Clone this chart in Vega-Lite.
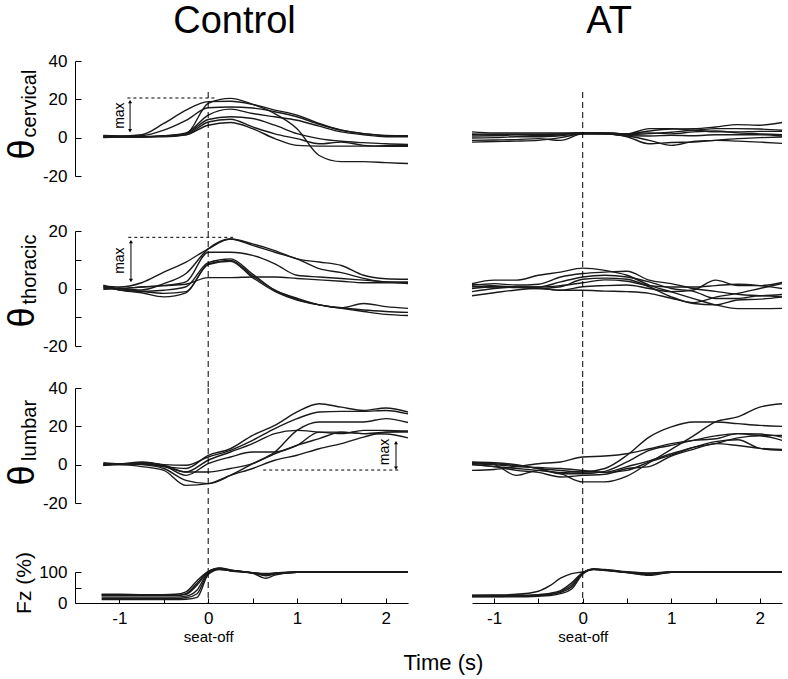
{
"$schema": "https://vega.github.io/schema/vega-lite/v6.json",
"background": "white",
"padding": {"left": 4, "top": 3, "right": 5, "bottom": 5},
"config": {
  "view": {"stroke": null},
  "font": "Liberation Sans",
  "axis": {"grid": false, "domainColor": "black", "tickColor": "black", "labelColor": "black", "titleColor": "black", "labelFont": "Liberation Sans", "titleFont": "Liberation Sans", "labelFontSize": 17, "titleFontWeight": "normal", "tickSize": -6, "labelPadding": 14, "domainWidth": 1, "tickWidth": 1},
  "title": {"font": "Liberation Sans", "fontWeight": "normal", "color": "black"}
},
"title": {"text": "Time (s)", "orient": "bottom", "fontSize": 22, "anchor": "middle", "dx": 49, "offset": 9},
"datasets": {
"d": [
{"p":"cC","t":-1.18,"a":0.3,"b":1,"c":0.8,"d":0.2,"e":0.6,"f":1.2,"g":0},
{"p":"cC","t":-1,"a":0.5,"b":0.8,"c":0.6,"d":0.4,"e":0.5,"f":0.9,"g":0.3},
{"p":"cC","t":-0.75,"a":0.5,"b":1.5,"c":1,"d":0.5,"e":0.5,"f":0.5,"g":0.5},
{"p":"cC","t":-0.5,"a":0.8,"b":7.4,"c":3.9,"d":1,"e":0.8,"f":0.8,"g":0.5},
{"p":"cC","t":-0.25,"a":2,"b":14.4,"c":9,"d":2.5,"e":2,"f":1.5,"g":1.5},
{"p":"cC","t":0,"a":17.9,"b":18.8,"c":15.6,"d":11.8,"e":9.5,"f":8.2,"g":6.5},
{"p":"cC","t":0.25,"a":20.5,"b":19,"c":16,"d":14.9,"e":10.9,"f":9.6,"g":7.9},
{"p":"cC","t":0.5,"a":17.4,"b":17.4,"c":15.5,"d":12.6,"e":10,"f":5.6,"g":4.7},
{"p":"cC","t":0.75,"a":12.6,"b":14.4,"c":13.5,"d":10.9,"e":6.5,"f":2,"g":-0.5},
{"p":"cC","t":1,"a":4.7,"b":11.8,"c":10.9,"d":9.1,"e":2.1,"f":-0.5,"g":-4},
{"p":"cC","t":1.25,"a":-9.3,"b":7.4,"c":7,"d":6,"e":-0.5,"f":-3.2,"g":-4.4},
{"p":"cC","t":1.5,"a":-12.5,"b":3.9,"c":3.9,"d":3,"e":-1.9,"f":-2.3,"g":-4.4},
{"p":"cC","t":1.75,"a":-12.5,"b":2.1,"c":2.1,"d":1.5,"e":-2.6,"f":-4,"g":-4.4},
{"p":"cC","t":2,"a":-13,"b":1.2,"c":1,"d":0.5,"e":-3.2,"f":-4.5,"g":-4.2},
{"p":"cC","t":2.25,"a":-13.5,"b":1,"c":0.8,"d":0.5,"e":-3.5,"f":-4.5,"g":-4},
{"p":"tC","t":-1.18,"a":1,"b":0.5,"c":0,"d":1.2,"e":-0.3,"f":0.6,"g":0.2},
{"p":"tC","t":-1,"a":0.5,"b":0,"c":0,"d":-0.5,"e":0,"f":-0.5,"g":0},
{"p":"tC","t":-0.75,"a":2,"b":-0.5,"c":0.5,"d":-1,"e":-1,"f":-1.5,"g":0.5},
{"p":"tC","t":-0.5,"a":5.7,"b":1.7,"c":1,"d":-0.6,"e":-1.7,"f":-2.9,"g":1},
{"p":"tC","t":-0.25,"a":9.2,"b":5.2,"c":2.3,"d":0.6,"e":-1.1,"f":-1.5,"g":1.5},
{"p":"tC","t":0,"a":13.8,"b":13.8,"c":12.6,"d":9,"e":8.5,"f":8.3,"g":3.8},
{"p":"tC","t":0.25,"a":17.2,"b":17.2,"c":12.6,"d":10.3,"e":9.8,"f":9.5,"g":3.8},
{"p":"tC","t":0.5,"a":15.5,"b":15,"c":11.5,"d":5,"e":4.4,"f":3.8,"g":4},
{"p":"tC","t":0.75,"a":13.2,"b":12.6,"c":8.6,"d":-0.6,"e":-0.6,"f":-1,"g":4},
{"p":"tC","t":1,"a":10.3,"b":10.3,"c":4.6,"d":-3.4,"e":-3.8,"f":-4,"g":3.5},
{"p":"tC","t":1.25,"a":9.2,"b":6.9,"c":4,"d":-5.7,"e":-5.7,"f":-5.7,"g":3},
{"p":"tC","t":1.5,"a":8,"b":5.5,"c":3.5,"d":-6.7,"e":-6.7,"f":-6.9,"g":2.5},
{"p":"tC","t":1.75,"a":4.6,"b":3.5,"c":2.9,"d":-5.2,"e":-7.5,"f":-8,"g":2},
{"p":"tC","t":2,"a":3.4,"b":2.3,"c":2.3,"d":-6.3,"e":-8,"f":-9,"g":2},
{"p":"tC","t":2.25,"a":3.2,"b":2.3,"c":1.7,"d":-6.9,"e":-8.3,"f":-9.4,"g":2},
{"p":"lC","t":-1.18,"a":0,"b":0.5,"c":-0.5,"d":0,"e":1,"f":-0.3,"g":0.5},
{"p":"lC","t":-1,"a":0.5,"b":0.5,"c":0.5,"d":0,"e":0.5,"f":0,"g":0.5},
{"p":"lC","t":-0.75,"a":0.5,"b":1,"c":0,"d":1,"e":1.4,"f":-1,"g":0.5},
{"p":"lC","t":-0.5,"a":-1,"b":0,"c":-2,"d":-0.3,"e":-0.5,"f":-3,"g":-1},
{"p":"lC","t":-0.25,"a":-2,"b":-0.3,"c":-8.2,"d":-3.8,"e":-5.6,"f":-10.8,"g":-3.8},
{"p":"lC","t":0,"a":4.9,"b":4,"c":-9.9,"d":2.3,"e":0.5,"f":-9.9,"g":-3.8},
{"p":"lC","t":0.25,"a":8.3,"b":7.5,"c":-5.6,"d":6.6,"e":4,"f":-5.6,"g":-2},
{"p":"lC","t":0.5,"a":15.3,"b":12.7,"c":0.5,"d":11,"e":6.6,"f":-2,"g":0.5},
{"p":"lC","t":0.75,"a":20.5,"b":18.8,"c":6.6,"d":16.2,"e":6.6,"f":2.3,"g":5.7},
{"p":"lC","t":1,"a":27.5,"b":24,"c":17.9,"d":17.9,"e":10.1,"f":4.9,"g":10.1},
{"p":"lC","t":1.25,"a":31.8,"b":27.5,"c":22.3,"d":17,"e":17,"f":8.3,"g":13.6},
{"p":"lC","t":1.5,"a":30,"b":27.8,"c":22.3,"d":16.2,"e":17,"f":11,"g":17},
{"p":"lC","t":1.75,"a":28.3,"b":27.8,"c":22.3,"d":17.9,"e":16.2,"f":14.4,"g":16.2},
{"p":"lC","t":2,"a":29.6,"b":28.3,"c":24,"d":17.9,"e":17,"f":17,"g":16},
{"p":"lC","t":2.25,"a":27.5,"b":26.5,"c":22,"d":17.5,"e":17,"f":17.5,"g":14},
{"p":"fC","t":-1.2,"a":28,"b":24,"c":19,"d":15,"e":11,"f":26},
{"p":"fC","t":-1,"a":28,"b":24,"c":19,"d":15,"e":11,"f":26},
{"p":"fC","t":-0.75,"a":27,"b":24,"c":19,"d":15,"e":11,"f":26},
{"p":"fC","t":-0.5,"a":27,"b":24,"c":19,"d":15,"e":11,"f":25},
{"p":"fC","t":-0.375,"a":28,"b":24,"c":19,"d":15,"e":11,"f":25},
{"p":"fC","t":-0.25,"a":36,"b":28,"c":22,"d":17,"e":12,"f":30},
{"p":"fC","t":-0.125,"a":72,"b":58,"c":42,"d":30,"e":18,"f":64},
{"p":"fC","t":0,"a":102,"b":100,"c":98,"d":95,"e":92,"f":101},
{"p":"fC","t":0.125,"a":113,"b":111,"c":110,"d":109,"e":108,"f":112},
{"p":"fC","t":0.25,"a":107,"b":106,"c":105,"d":104,"e":105,"f":104},
{"p":"fC","t":0.5,"a":97,"b":98,"c":96,"d":97,"e":98,"f":97},
{"p":"fC","t":0.65,"a":92,"b":95,"c":80,"d":88,"e":93,"f":91},
{"p":"fC","t":0.75,"a":95,"b":96,"c":90,"d":93,"e":97,"f":95},
{"p":"fC","t":1,"a":99,"b":99,"c":99,"d":100,"e":100,"f":99},
{"p":"fC","t":1.5,"a":100,"b":100,"c":100,"d":100,"e":100,"f":100},
{"p":"fC","t":2,"a":100,"b":100,"c":100,"d":100,"e":100,"f":100},
{"p":"fC","t":2.25,"a":100,"b":100,"c":100,"d":100,"e":100,"f":100},
{"p":"cA","t":-1.25,"a":3,"b":1.6,"c":0.9,"d":-0.2,"e":-1.4,"f":-2.3,"g":2},
{"p":"cA","t":-1,"a":2.5,"b":2,"c":1,"d":0,"e":-1.2,"f":-2,"g":1.6},
{"p":"cA","t":-0.75,"a":2.5,"b":2,"c":1.5,"d":0.5,"e":-1,"f":-1.8,"g":1.6},
{"p":"cA","t":-0.5,"a":2.5,"b":2,"c":1.5,"d":0.5,"e":-0.5,"f":-1.4,"g":1},
{"p":"cA","t":-0.25,"a":2.5,"b":2,"c":2,"d":1,"e":-1.4,"f":0,"g":1.5},
{"p":"cA","t":0,"a":2.5,"b":2.5,"c":2.5,"d":2,"e":2,"f":2,"g":2.5},
{"p":"cA","t":0.25,"a":2.5,"b":2.5,"c":2,"d":2,"e":2,"f":2,"g":2.5},
{"p":"cA","t":0.5,"a":2,"b":2,"c":1.5,"d":1,"e":1,"f":0.5,"g":2},
{"p":"cA","t":0.75,"a":3.5,"b":4.7,"c":2.1,"d":0.9,"e":-1.4,"f":-3.2,"g":2.5},
{"p":"cA","t":1,"a":4.5,"b":4.7,"c":2.8,"d":1.2,"e":-4,"f":-2.5,"g":2},
{"p":"cA","t":1.25,"a":4.7,"b":3.9,"c":3.9,"d":1,"e":-2,"f":-2.3,"g":3},
{"p":"cA","t":1.5,"a":5.6,"b":4.7,"c":3,"d":1.5,"e":-1.4,"f":-1.4,"g":3.5},
{"p":"cA","t":1.75,"a":6.8,"b":4.7,"c":3,"d":1.5,"e":-0.5,"f":-1.8,"g":2.5},
{"p":"cA","t":2,"a":6.5,"b":4.5,"c":3.3,"d":1.5,"e":0,"f":-2.3,"g":2},
{"p":"cA","t":2.25,"a":7.9,"b":3.9,"c":3.3,"d":0.9,"e":0.4,"f":-3,"g":1.5},
{"p":"tA","t":-1.25,"a":1.7,"b":1.1,"c":0,"d":-1.1,"e":-2.5,"f":0.6,"g":1.5},
{"p":"tA","t":-1,"a":2.9,"b":1.7,"c":0.5,"d":0,"e":-1.5,"f":0.6,"g":1},
{"p":"tA","t":-0.75,"a":2.9,"b":1.2,"c":0.5,"d":0.5,"e":-0.5,"f":0.3,"g":0.5},
{"p":"tA","t":-0.5,"a":4.6,"b":1.5,"c":0.5,"d":0,"e":0,"f":0.1,"g":0.5},
{"p":"tA","t":-0.25,"a":5.7,"b":4,"c":2.3,"d":0.6,"e":-0.6,"f":-0.6,"g":1},
{"p":"tA","t":0,"a":7.1,"b":5.2,"c":4,"d":3.2,"e":0.6,"f":-0.6,"g":2},
{"p":"tA","t":0.25,"a":6.3,"b":5.7,"c":4.6,"d":3.6,"e":1,"f":-0.9,"g":3},
{"p":"tA","t":0.5,"a":4.6,"b":6,"c":4,"d":3.2,"e":1.2,"f":-1.1,"g":2.5},
{"p":"tA","t":0.75,"a":1.2,"b":2.9,"c":2.3,"d":0.6,"e":0,"f":-1.7,"g":1},
{"p":"tA","t":1,"a":-1.2,"b":1.7,"c":0,"d":-2.9,"e":-1.1,"f":-3.4,"g":0.5},
{"p":"tA","t":1.25,"a":-3.5,"b":0,"c":-1,"d":-5.2,"e":-0.5,"f":-4.9,"g":0.5},
{"p":"tA","t":1.5,"a":-5.7,"b":-1,"c":-3.5,"d":-5.7,"e":2.9,"f":-3,"g":1},
{"p":"tA","t":1.75,"a":-7,"b":-2,"c":-3.5,"d":-4,"e":1,"f":-1.7,"g":1.5},
{"p":"tA","t":2,"a":-7,"b":-2.5,"c":-2.5,"d":-3.7,"e":1,"f":0,"g":1},
{"p":"tA","t":2.25,"a":-6.9,"b":-2.1,"c":-2.9,"d":-3,"e":2.1,"f":1.7,"g":0},
{"p":"lA","t":-1.25,"a":0,"b":1.4,"c":-3,"d":1,"e":0.5,"f":0,"g":1},
{"p":"lA","t":-1,"a":-1,"b":1,"c":-2.5,"d":0.5,"e":0,"f":-1,"g":0},
{"p":"lA","t":-0.75,"a":-2,"b":0,"c":-1,"d":-0.5,"e":-1,"f":-3,"g":-5.6},
{"p":"lA","t":-0.5,"a":-3,"b":-2,"c":0.5,"d":-2,"e":-1.5,"f":-4,"g":-3},
{"p":"lA","t":-0.25,"a":-4.7,"b":-3,"c":1.4,"d":-4.7,"e":-2,"f":-6.4,"g":-4},
{"p":"lA","t":0,"a":-9,"b":-3.8,"c":4,"d":-4.7,"e":-3,"f":-5.6,"g":-3.8},
{"p":"lA","t":0.25,"a":-9,"b":-2,"c":4.5,"d":-3.5,"e":-4,"f":-5,"g":-4},
{"p":"lA","t":0.5,"a":-6,"b":4.9,"c":5.7,"d":1.4,"e":-1,"f":-2,"g":-3},
{"p":"lA","t":0.75,"a":1,"b":14.4,"c":8.3,"d":7.5,"e":2,"f":-1,"g":1.4},
{"p":"lA","t":1,"a":8,"b":19.7,"c":11,"d":10.1,"e":5.7,"f":4.5,"g":5},
{"p":"lA","t":1.25,"a":15,"b":22.3,"c":12.7,"d":12.7,"e":9,"f":8,"g":9},
{"p":"lA","t":1.5,"a":22.3,"b":22.3,"c":13.5,"d":15,"e":11,"f":11,"g":12},
{"p":"lA","t":1.75,"a":24.9,"b":21.4,"c":16.2,"d":16.2,"e":14,"f":10,"g":13},
{"p":"lA","t":2,"a":30,"b":20.5,"c":16,"d":15.3,"e":15,"f":8.5,"g":8.5},
{"p":"lA","t":2.25,"a":31.8,"b":20,"c":14.4,"d":15.3,"e":12.7,"f":8,"g":7.5},
{"p":"fA","t":-1.25,"a":25,"b":23,"c":21,"d":20,"e":24},
{"p":"fA","t":-1,"a":26,"b":23,"c":21,"d":20,"e":24},
{"p":"fA","t":-0.75,"a":28,"b":24,"c":22,"d":20,"e":24},
{"p":"fA","t":-0.5,"a":38,"b":27,"c":24,"d":22,"e":26},
{"p":"fA","t":-0.375,"a":55,"b":31,"c":27,"d":24,"e":29},
{"p":"fA","t":-0.25,"a":80,"b":40,"c":34,"d":30,"e":37},
{"p":"fA","t":-0.125,"a":95,"b":65,"c":52,"d":45,"e":58},
{"p":"fA","t":0,"a":100,"b":98,"c":96,"d":93,"e":97},
{"p":"fA","t":0.125,"a":110,"b":109,"c":109,"d":108,"e":110},
{"p":"fA","t":0.25,"a":108,"b":106,"c":107,"d":105,"e":106},
{"p":"fA","t":0.5,"a":101,"b":99,"c":99,"d":98,"e":98},
{"p":"fA","t":0.65,"a":98,"b":95,"c":93,"d":92,"e":96},
{"p":"fA","t":0.75,"a":97,"b":94,"c":92,"d":89,"e":95},
{"p":"fA","t":1,"a":100,"b":99,"c":99,"d":99,"e":100},
{"p":"fA","t":1.5,"a":100,"b":100,"c":100,"d":100,"e":100},
{"p":"fA","t":2,"a":100,"b":100,"c":100,"d":100,"e":100},
{"p":"fA","t":2.25,"a":100,"b":100,"c":100,"d":100,"e":100}
],
"so": [
{"p":"cC","t":0,"y1":23.8,"y2":-48.7},
{"p":"tC","t":0,"y1":20,"y2":-34.6},
{"p":"lC","t":0,"y1":40,"y2":-56},
{"p":"fC","t":0,"y1":100,"y2":0},
{"p":"cA","t":0,"y1":23.8,"y2":-48.7},
{"p":"tA","t":0,"y1":20,"y2":-34.6},
{"p":"lA","t":0,"y1":40,"y2":-56},
{"p":"fA","t":0,"y1":100,"y2":0}
],
"mx": [
{"p":"cC","hx1":-0.91,"hx2":0.1,"hy":20.7,"ax":-0.88,"ay1":3.6,"ay2":18.8,"tx":-0.99,"ty":11.5,"lab":"max"},
{"p":"tC","hx1":-0.9,"hx2":0.28,"hy":17.8,"ax":-0.87,"ay1":2.8,"ay2":16.3,"tx":-0.99,"ty":9.7,"lab":"max"},
{"p":"lC","hx1":0.62,"hx2":2.16,"hy":-2.8,"ax":2.115,"ay1":-1.8,"ay2":11.5,"tx":1.99,"ty":6.6,"lab":"max"}
]
},
"columns": 2,
"spacing": {"row": 0, "column": 64},
"bounds": "flush",
"concat": [
  {
   "width": 333, "height": 115,
   "title": {"text": "Control", "fontSize": 38, "dx": -7, "offset": -19, "baseline": "alphabetic"},
   "resolve": {"axis": {"y": "independent"}},
   "layer": [
    {"data": {"name": "d"}, "transform": [{"filter": "datum.p === 'cC'"}, {"fold": ["a","b","c","d","e","f","g"], "as": ["k","v"]}, {"filter": "isValid(datum.v)"}],
     "mark": {"type": "line", "interpolate": "monotone", "color": "#1a1a1a", "strokeWidth": 1.4},
     "encoding": {
      "x": {"field": "t", "type": "quantitative", "scale": {"domain": [-1.5, 2.25], "nice": false, "zero": false}, "axis": null},
      "y": {"field": "v", "type": "quantitative", "scale": {"domain": [-20, 40], "nice": false, "zero": false}, "axis": {"orient": "left", "values": [-20,0,20,40], "labelExpr": "'' + datum.value", "title": "θ", "titleFontSize": 36, "titleX": -42, "titleY": 88, "titleAngle": 270, "titleAlign": "center", "titleBaseline": "alphabetic"}},
      "detail": {"field": "k", "type": "nominal"}}},
    {"data": {"name": "so"}, "transform": [{"filter": "datum.p === 'cC'"}],
     "mark": {"type": "rule", "strokeDash": [6,4], "color": "black", "strokeWidth": 1},
     "encoding": {
      "x": {"field": "t", "type": "quantitative", "scale": {"domain": [-1.5, 2.25], "nice": false, "zero": false}, "axis": null},
      "y": {"field": "y1", "type": "quantitative", "scale": {"domain": [-20, 40], "nice": false, "zero": false}, "axis": {"orient": "left", "title": "cervical", "titleFontSize": 20, "titleX": -40, "titleY": 42, "titleAngle": 270, "titleAlign": "center", "titleBaseline": "alphabetic", "labels": false, "ticks": false, "domain": false}},
      "y2": {"field": "y2"}}},
    {"data": {"name": "mx"}, "transform": [{"filter": "datum.p === 'cC'"}],
     "layer": [
      {"mark": {"type": "rule", "strokeDash": [3,3], "color": "black", "strokeWidth": 1},
       "encoding": {"x": {"field": "hx1", "type": "quantitative", "scale": {"domain": [-1.5, 2.25], "nice": false, "zero": false}, "axis": null}, "x2": {"field": "hx2"}, "y": {"field": "hy", "type": "quantitative", "scale": {"domain": [-20, 40], "nice": false, "zero": false}, "axis": null}}},
      {"mark": {"type": "rule", "color": "black", "strokeWidth": 1},
       "encoding": {"x": {"field": "ax", "type": "quantitative", "axis": null}, "y": {"field": "ay1", "type": "quantitative", "axis": null}, "y2": {"field": "ay2"}}},
      {"mark": {"type": "point", "shape": "triangle-up", "filled": true, "color": "black", "opacity": 1, "size": 16},
       "encoding": {"x": {"field": "ax", "type": "quantitative", "axis": null}, "y": {"field": "ay2", "type": "quantitative", "axis": null}}},
      {"mark": {"type": "point", "shape": "triangle-down", "filled": true, "color": "black", "opacity": 1, "size": 16},
       "encoding": {"x": {"field": "ax", "type": "quantitative", "axis": null}, "y": {"field": "ay1", "type": "quantitative", "axis": null}}},
      {"mark": {"type": "text", "angle": 270, "fontSize": 14, "font": "Liberation Sans", "align": "center", "baseline": "middle", "color": "black"},
       "encoding": {"x": {"field": "tx", "type": "quantitative", "axis": null}, "y": {"field": "ty", "type": "quantitative", "axis": null}, "text": {"field": "lab"}}}
     ]}
   ]
  },
  {
   "width": 310, "height": 115,
   "title": {"text": "AT", "fontSize": 38, "dx": -18, "offset": -10, "baseline": "alphabetic"},
   "layer": [
    {"data": {"name": "d"}, "transform": [{"filter": "datum.p === 'cA'"}, {"fold": ["a","b","c","d","e","f","g"], "as": ["k","v"]}, {"filter": "isValid(datum.v)"}],
     "mark": {"type": "line", "interpolate": "monotone", "color": "#1a1a1a", "strokeWidth": 1.4},
     "encoding": {
      "x": {"field": "t", "type": "quantitative", "scale": {"domain": [-1.25, 2.25], "nice": false, "zero": false}, "axis": null},
      "y": {"field": "v", "type": "quantitative", "scale": {"domain": [-20, 40], "nice": false, "zero": false}, "axis": null},
      "detail": {"field": "k", "type": "nominal"}}},
    {"data": {"name": "so"}, "transform": [{"filter": "datum.p === 'cA'"}],
     "mark": {"type": "rule", "strokeDash": [6,4], "color": "black", "strokeWidth": 1},
     "encoding": {
      "x": {"field": "t", "type": "quantitative", "axis": null},
      "y": {"field": "y1", "type": "quantitative", "axis": null},
      "y2": {"field": "y2"}}}
   ]
  },
  {"width": 1, "height": 55, "data": {"values": []}, "mark": {"type": "point", "opacity": 0}, "encoding": {}},
  {"width": 1, "height": 55, "data": {"values": []}, "mark": {"type": "point", "opacity": 0}, "encoding": {}},
  {
   "width": 333, "height": 115,
   "resolve": {"axis": {"y": "independent"}},
   "layer": [
    {"data": {"name": "d"}, "transform": [{"filter": "datum.p === 'tC'"}, {"fold": ["a","b","c","d","e","f","g"], "as": ["k","v"]}, {"filter": "isValid(datum.v)"}],
     "mark": {"type": "line", "interpolate": "monotone", "color": "#1a1a1a", "strokeWidth": 1.4},
     "encoding": {
      "x": {"field": "t", "type": "quantitative", "scale": {"domain": [-1.5, 2.25], "nice": false, "zero": false}, "axis": null},
      "y": {"field": "v", "type": "quantitative", "scale": {"domain": [-20, 20], "nice": false, "zero": false}, "axis": {"orient": "left", "values": [-20,-10,0,10,20], "labelExpr": "datum.value % 20 === 0 ? '' + datum.value : ''", "title": "θ", "titleFontSize": 36, "titleX": -42, "titleY": 86, "titleAngle": 270, "titleAlign": "center", "titleBaseline": "alphabetic"}},
      "detail": {"field": "k", "type": "nominal"}}},
    {"data": {"name": "so"}, "transform": [{"filter": "datum.p === 'tC'"}],
     "mark": {"type": "rule", "strokeDash": [6,4], "color": "black", "strokeWidth": 1},
     "encoding": {
      "x": {"field": "t", "type": "quantitative", "scale": {"domain": [-1.5, 2.25], "nice": false, "zero": false}, "axis": null},
      "y": {"field": "y1", "type": "quantitative", "scale": {"domain": [-20, 20], "nice": false, "zero": false}, "axis": {"orient": "left", "title": "thoracic", "titleFontSize": 20, "titleX": -40, "titleY": 38, "titleAngle": 270, "titleAlign": "center", "titleBaseline": "alphabetic", "labels": false, "ticks": false, "domain": false}},
      "y2": {"field": "y2"}}},
    {"data": {"name": "mx"}, "transform": [{"filter": "datum.p === 'tC'"}],
     "layer": [
      {"mark": {"type": "rule", "strokeDash": [3,3], "color": "black", "strokeWidth": 1},
       "encoding": {"x": {"field": "hx1", "type": "quantitative", "scale": {"domain": [-1.5, 2.25], "nice": false, "zero": false}, "axis": null}, "x2": {"field": "hx2"}, "y": {"field": "hy", "type": "quantitative", "scale": {"domain": [-20, 20], "nice": false, "zero": false}, "axis": null}}},
      {"mark": {"type": "rule", "color": "black", "strokeWidth": 1},
       "encoding": {"x": {"field": "ax", "type": "quantitative", "axis": null}, "y": {"field": "ay1", "type": "quantitative", "axis": null}, "y2": {"field": "ay2"}}},
      {"mark": {"type": "point", "shape": "triangle-up", "filled": true, "color": "black", "opacity": 1, "size": 16},
       "encoding": {"x": {"field": "ax", "type": "quantitative", "axis": null}, "y": {"field": "ay2", "type": "quantitative", "axis": null}}},
      {"mark": {"type": "point", "shape": "triangle-down", "filled": true, "color": "black", "opacity": 1, "size": 16},
       "encoding": {"x": {"field": "ax", "type": "quantitative", "axis": null}, "y": {"field": "ay1", "type": "quantitative", "axis": null}}},
      {"mark": {"type": "text", "angle": 270, "fontSize": 14, "font": "Liberation Sans", "align": "center", "baseline": "middle", "color": "black"},
       "encoding": {"x": {"field": "tx", "type": "quantitative", "axis": null}, "y": {"field": "ty", "type": "quantitative", "axis": null}, "text": {"field": "lab"}}}
     ]}
   ]
  },
  {
   "width": 310, "height": 115,
   "layer": [
    {"data": {"name": "d"}, "transform": [{"filter": "datum.p === 'tA'"}, {"fold": ["a","b","c","d","e","f","g"], "as": ["k","v"]}, {"filter": "isValid(datum.v)"}],
     "mark": {"type": "line", "interpolate": "monotone", "color": "#1a1a1a", "strokeWidth": 1.4},
     "encoding": {
      "x": {"field": "t", "type": "quantitative", "scale": {"domain": [-1.25, 2.25], "nice": false, "zero": false}, "axis": null},
      "y": {"field": "v", "type": "quantitative", "scale": {"domain": [-20, 20], "nice": false, "zero": false}, "axis": null},
      "detail": {"field": "k", "type": "nominal"}}},
    {"data": {"name": "so"}, "transform": [{"filter": "datum.p === 'tA'"}],
     "mark": {"type": "rule", "strokeDash": [6,4], "color": "black", "strokeWidth": 1},
     "encoding": {
      "x": {"field": "t", "type": "quantitative", "axis": null},
      "y": {"field": "y1", "type": "quantitative", "axis": null},
      "y2": {"field": "y2"}}}
   ]
  },
  {"width": 1, "height": 42, "data": {"values": []}, "mark": {"type": "point", "opacity": 0}, "encoding": {}},
  {"width": 1, "height": 42, "data": {"values": []}, "mark": {"type": "point", "opacity": 0}, "encoding": {}},
  {
   "width": 333, "height": 115,
   "resolve": {"axis": {"y": "independent"}},
   "layer": [
    {"data": {"name": "d"}, "transform": [{"filter": "datum.p === 'lC'"}, {"fold": ["a","b","c","d","e","f","g"], "as": ["k","v"]}, {"filter": "isValid(datum.v)"}],
     "mark": {"type": "line", "interpolate": "monotone", "color": "#1a1a1a", "strokeWidth": 1.4},
     "encoding": {
      "x": {"field": "t", "type": "quantitative", "scale": {"domain": [-1.5, 2.25], "nice": false, "zero": false}, "axis": null},
      "y": {"field": "v", "type": "quantitative", "scale": {"domain": [-20, 40], "nice": false, "zero": false}, "axis": {"orient": "left", "values": [-20,0,20,40], "labelExpr": "'' + datum.value", "title": "θ", "titleFontSize": 36, "titleX": -42, "titleY": 87, "titleAngle": 270, "titleAlign": "center", "titleBaseline": "alphabetic"}},
      "detail": {"field": "k", "type": "nominal"}}},
    {"data": {"name": "so"}, "transform": [{"filter": "datum.p === 'lC'"}],
     "mark": {"type": "rule", "strokeDash": [6,4], "color": "black", "strokeWidth": 1},
     "encoding": {
      "x": {"field": "t", "type": "quantitative", "scale": {"domain": [-1.5, 2.25], "nice": false, "zero": false}, "axis": null},
      "y": {"field": "y1", "type": "quantitative", "scale": {"domain": [-20, 40], "nice": false, "zero": false}, "axis": {"orient": "left", "title": "lumbar", "titleFontSize": 20, "titleX": -40, "titleY": 42, "titleAngle": 270, "titleAlign": "center", "titleBaseline": "alphabetic", "labels": false, "ticks": false, "domain": false}},
      "y2": {"field": "y2"}}},
    {"data": {"name": "mx"}, "transform": [{"filter": "datum.p === 'lC'"}],
     "layer": [
      {"mark": {"type": "rule", "strokeDash": [3,3], "color": "black", "strokeWidth": 1},
       "encoding": {"x": {"field": "hx1", "type": "quantitative", "scale": {"domain": [-1.5, 2.25], "nice": false, "zero": false}, "axis": null}, "x2": {"field": "hx2"}, "y": {"field": "hy", "type": "quantitative", "scale": {"domain": [-20, 40], "nice": false, "zero": false}, "axis": null}}},
      {"mark": {"type": "rule", "color": "black", "strokeWidth": 1},
       "encoding": {"x": {"field": "ax", "type": "quantitative", "axis": null}, "y": {"field": "ay1", "type": "quantitative", "axis": null}, "y2": {"field": "ay2"}}},
      {"mark": {"type": "point", "shape": "triangle-up", "filled": true, "color": "black", "opacity": 1, "size": 16},
       "encoding": {"x": {"field": "ax", "type": "quantitative", "axis": null}, "y": {"field": "ay2", "type": "quantitative", "axis": null}}},
      {"mark": {"type": "point", "shape": "triangle-down", "filled": true, "color": "black", "opacity": 1, "size": 16},
       "encoding": {"x": {"field": "ax", "type": "quantitative", "axis": null}, "y": {"field": "ay1", "type": "quantitative", "axis": null}}},
      {"mark": {"type": "text", "angle": 270, "fontSize": 14, "font": "Liberation Sans", "align": "center", "baseline": "middle", "color": "black"},
       "encoding": {"x": {"field": "tx", "type": "quantitative", "axis": null}, "y": {"field": "ty", "type": "quantitative", "axis": null}, "text": {"field": "lab"}}}
     ]}
   ]
  },
  {
   "width": 310, "height": 115,
   "layer": [
    {"data": {"name": "d"}, "transform": [{"filter": "datum.p === 'lA'"}, {"fold": ["a","b","c","d","e","f","g"], "as": ["k","v"]}, {"filter": "isValid(datum.v)"}],
     "mark": {"type": "line", "interpolate": "monotone", "color": "#1a1a1a", "strokeWidth": 1.4},
     "encoding": {
      "x": {"field": "t", "type": "quantitative", "scale": {"domain": [-1.25, 2.25], "nice": false, "zero": false}, "axis": null},
      "y": {"field": "v", "type": "quantitative", "scale": {"domain": [-20, 40], "nice": false, "zero": false}, "axis": null},
      "detail": {"field": "k", "type": "nominal"}}},
    {"data": {"name": "so"}, "transform": [{"filter": "datum.p === 'lA'"}],
     "mark": {"type": "rule", "strokeDash": [6,4], "color": "black", "strokeWidth": 1},
     "encoding": {
      "x": {"field": "t", "type": "quantitative", "axis": null},
      "y": {"field": "y1", "type": "quantitative", "axis": null},
      "y2": {"field": "y2"}}}
   ]
  },
  {"width": 1, "height": 69, "data": {"values": []}, "mark": {"type": "point", "opacity": 0}, "encoding": {}},
  {"width": 1, "height": 69, "data": {"values": []}, "mark": {"type": "point", "opacity": 0}, "encoding": {}},
  {
   "width": 333, "height": 31,
   "resolve": {"axis": {"x": "independent", "y": "independent"}},
   "layer": [
    {"data": {"name": "d"}, "transform": [{"filter": "datum.p === 'fC'"}, {"fold": ["a","b","c","d","e","f","g"], "as": ["k","v"]}, {"filter": "isValid(datum.v)"}],
     "mark": {"type": "line", "interpolate": "monotone", "color": "#1a1a1a", "strokeWidth": 1.4},
     "encoding": {
      "x": {"field": "t", "type": "quantitative", "scale": {"domain": [-1.5, 2.25], "nice": false, "zero": false}, "axis": {"orient": "bottom", "values": [-1,-0.5,0,0.5,1,1.5,2], "labelExpr": "datum.value % 1 === 0 ? '' + datum.value : ''", "tickSize": -5, "labelPadding": 12, "labelOverlap": false, "labelFlush": false, "title": "seat-off", "titleFontSize": 15, "titleX": 133.2, "titleY": 38, "titleAlign": "center", "titleBaseline": "alphabetic"}},
      "y": {"field": "v", "type": "quantitative", "scale": {"domain": [0, 100], "nice": false, "zero": false}, "axis": {"orient": "left", "values": [0,50,100], "labelExpr": "datum.value === 50 ? '' : '' + datum.value", "title": "Fz (%)", "titleFontSize": 21, "titleX": -45, "titleY": 10.5, "titleAngle": 270, "titleAlign": "center", "titleBaseline": "alphabetic"}},
      "detail": {"field": "k", "type": "nominal"}}},
    {"data": {"name": "so"}, "transform": [{"filter": "datum.p === 'fC'"}],
     "mark": {"type": "rule", "strokeDash": [6,4], "color": "black", "strokeWidth": 1},
     "encoding": {
      "x": {"field": "t", "type": "quantitative", "scale": {"domain": [-1.5, 2.25], "nice": false, "zero": false}, "axis": null},
      "y": {"field": "y1", "type": "quantitative", "scale": {"domain": [0, 100], "nice": false, "zero": false}, "axis": null},
      "y2": {"field": "y2"}}}
   ]
  },
  {
   "width": 310, "height": 31,
   "resolve": {"axis": {"x": "independent", "y": "independent"}},
   "layer": [
    {"data": {"name": "d"}, "transform": [{"filter": "datum.p === 'fA'"}, {"fold": ["a","b","c","d","e","f","g"], "as": ["k","v"]}, {"filter": "isValid(datum.v)"}],
     "mark": {"type": "line", "interpolate": "monotone", "color": "#1a1a1a", "strokeWidth": 1.4},
     "encoding": {
      "x": {"field": "t", "type": "quantitative", "scale": {"domain": [-1.25, 2.25], "nice": false, "zero": false}, "axis": {"orient": "bottom", "values": [-1,-0.5,0,0.5,1,1.5,2], "labelExpr": "datum.value % 1 === 0 ? '' + datum.value : ''", "tickSize": -5, "labelPadding": 12, "labelOverlap": false, "labelFlush": false, "title": "seat-off", "titleFontSize": 15, "titleX": 110.7, "titleY": 38, "titleAlign": "center", "titleBaseline": "alphabetic"}},
      "y": {"field": "v", "type": "quantitative", "scale": {"domain": [0, 100], "nice": false, "zero": false}, "axis": null},
      "detail": {"field": "k", "type": "nominal"}}},
    {"data": {"name": "so"}, "transform": [{"filter": "datum.p === 'fA'"}],
     "mark": {"type": "rule", "strokeDash": [6,4], "color": "black", "strokeWidth": 1},
     "encoding": {
      "x": {"field": "t", "type": "quantitative", "scale": {"domain": [-1.25, 2.25], "nice": false, "zero": false}, "axis": null},
      "y": {"field": "y1", "type": "quantitative", "scale": {"domain": [0, 100], "nice": false, "zero": false}, "axis": null},
      "y2": {"field": "y2"}}}
   ]
  }
]
}
